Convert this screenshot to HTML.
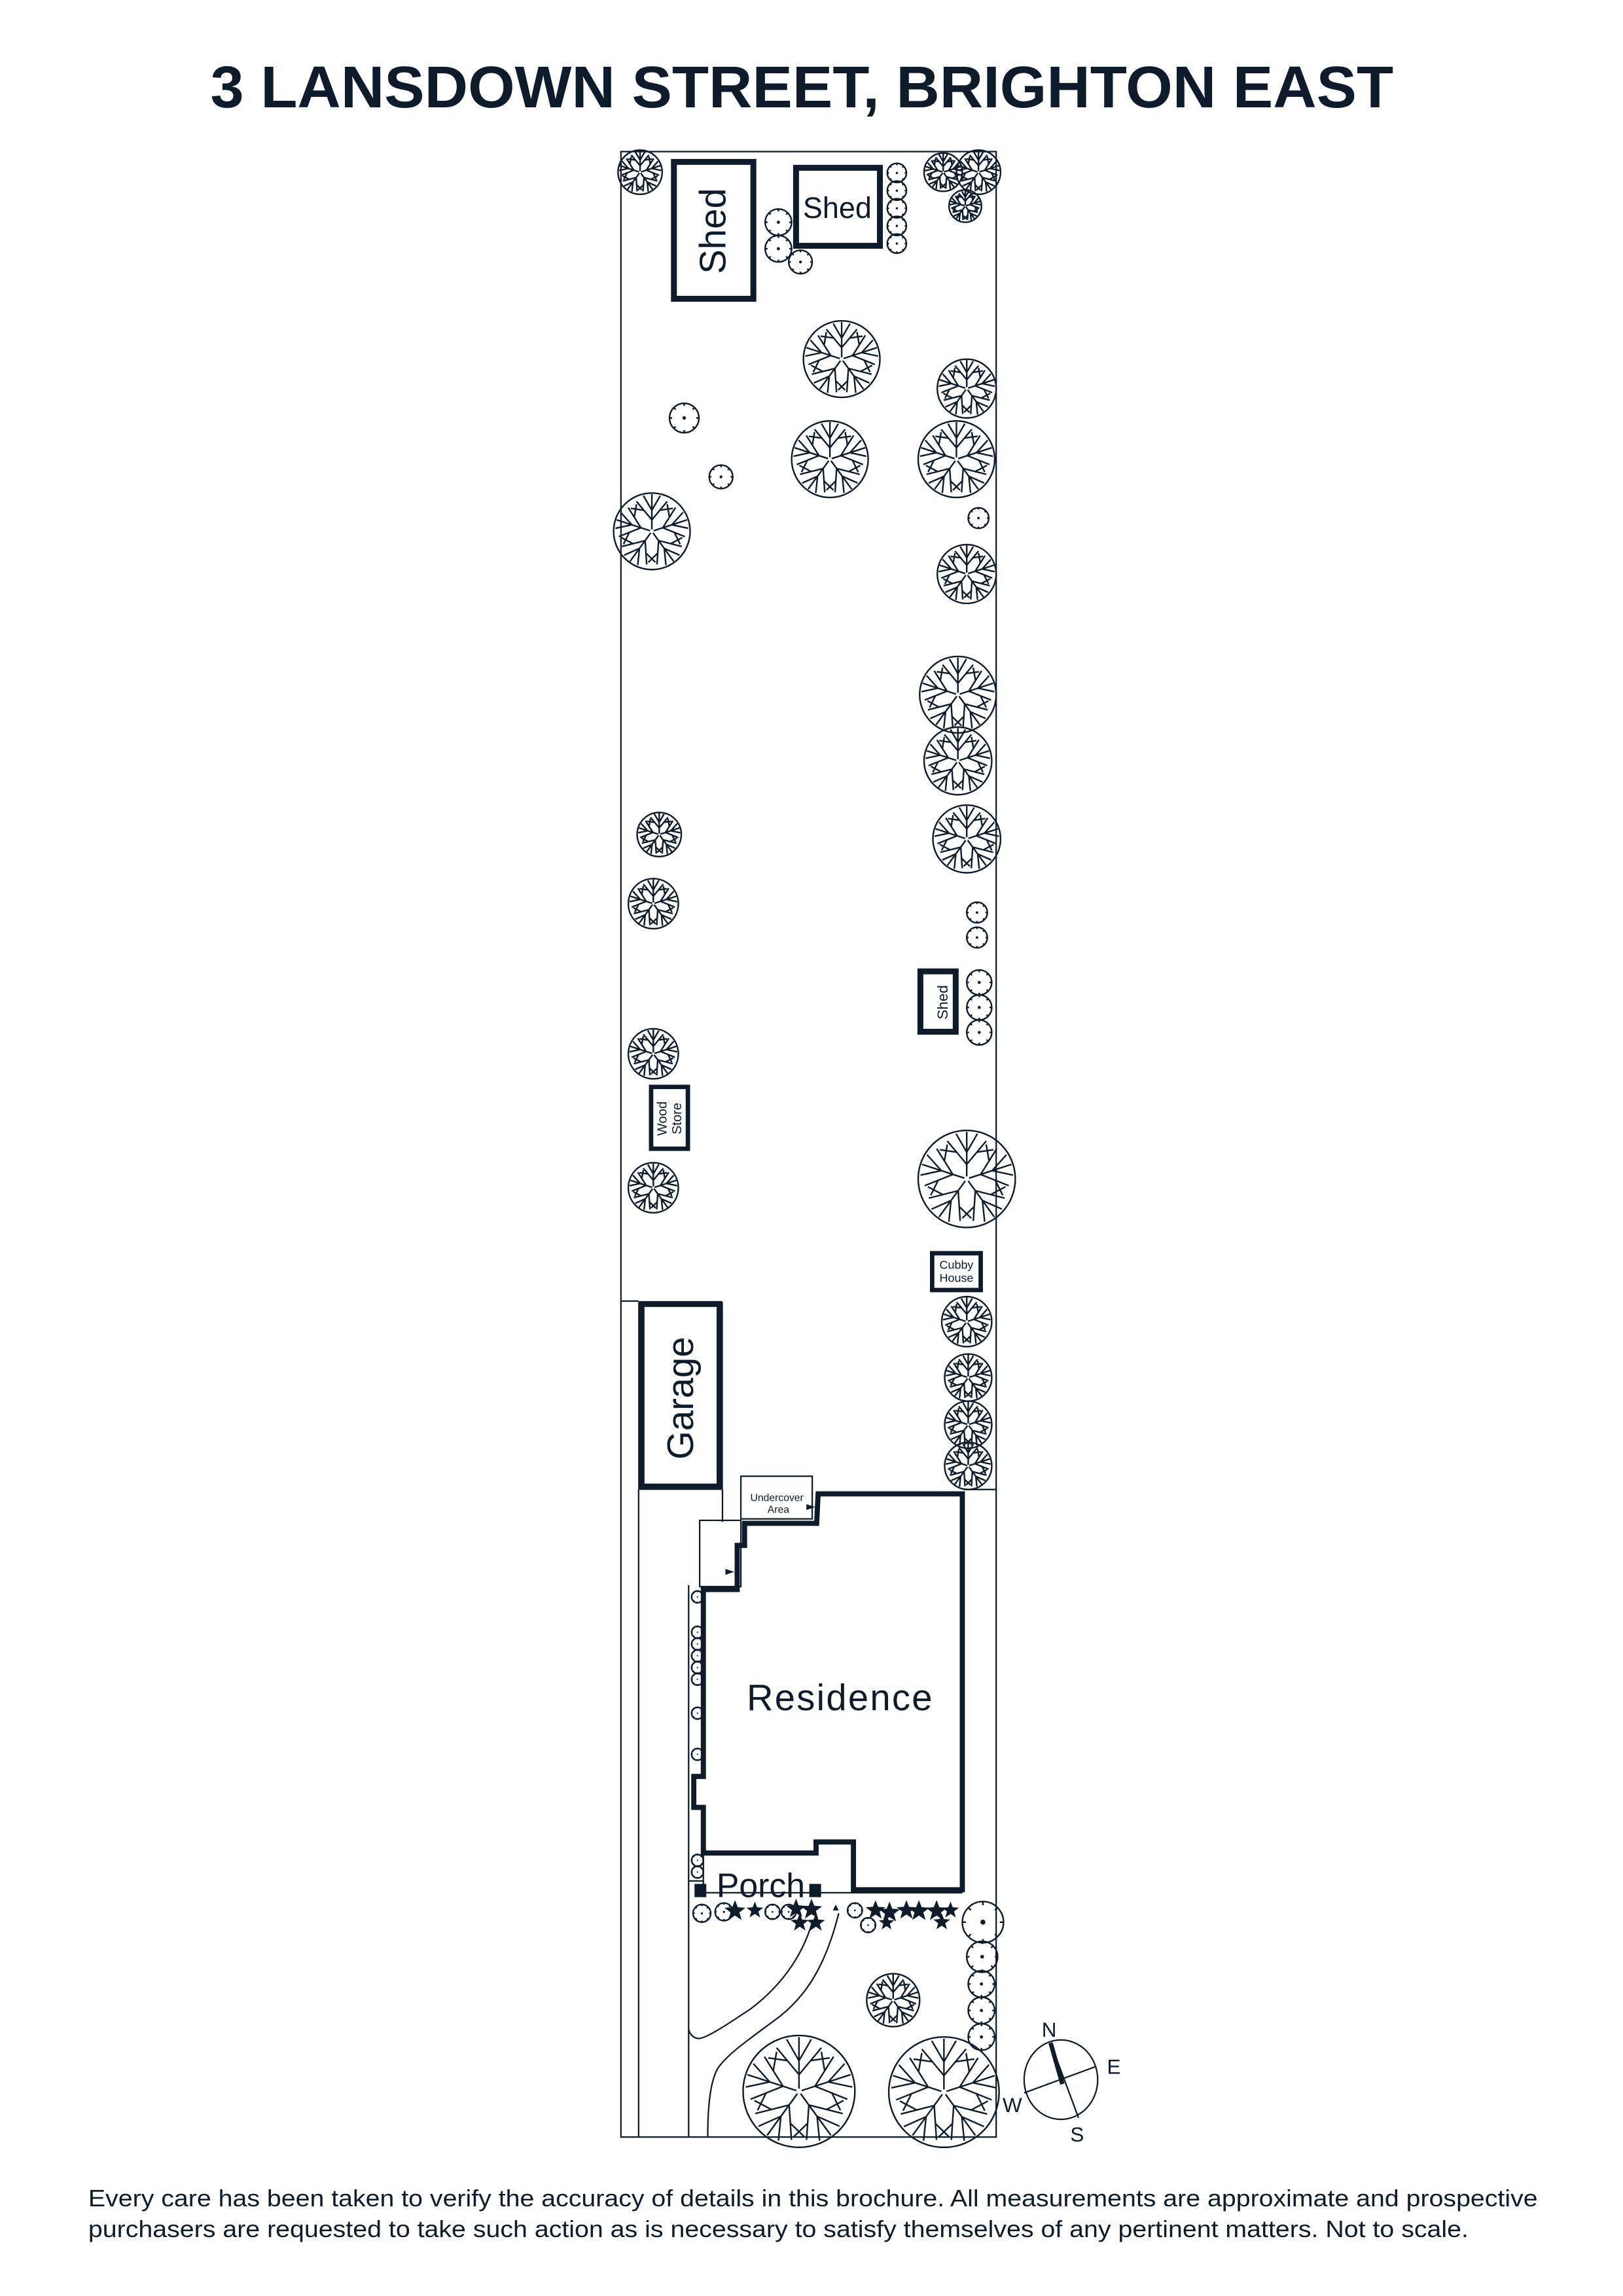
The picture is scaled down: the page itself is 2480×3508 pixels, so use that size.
<!DOCTYPE html>
<html><head><meta charset="utf-8"><style>html,body{margin:0;padding:0;background:#fff}svg{display:block}</style></head>
<body>
<svg width="2480" height="3508" viewBox="0 0 1103 1560" preserveAspectRatio="none" xmlns="http://www.w3.org/2000/svg">
<defs>
<g id="br"><path d="M0,-0.05 L0,-0.97 M0,-0.3 L-0.4,-0.78 M0,-0.3 L0.4,-0.78 M0,-0.55 L-0.22,-0.93 M0,-0.55 L0.22,-0.93 M-0.2,-0.55 L-0.55,-0.6 M0.2,-0.55 L0.55,-0.6" vector-effect="non-scaling-stroke"/></g>
<symbol id="tree" viewBox="-1 -1 2 2" overflow="visible"><g fill="none" stroke="#0d1b2a" stroke-width="2.4"><circle r="1" vector-effect="non-scaling-stroke"/><use href="#br"/><use href="#br" transform="rotate(72)"/><use href="#br" transform="rotate(144)"/><use href="#br" transform="rotate(216)"/><use href="#br" transform="rotate(288)"/></g></symbol>
<symbol id="shrub" viewBox="-1 -1 2 2" overflow="visible"><g fill="none" stroke="#0d1b2a" stroke-width="2.4"><circle r="1" vector-effect="non-scaling-stroke"/><path d="M0,-1 L0,-0.82 M0,1 L0,0.82 M-1,0 L-0.82,0 M1,0 L0.82,0 M0.7,0.7 L0.58,0.58 M-0.7,0.7 L-0.58,0.58 M0.7,-0.7 L0.58,-0.58 M-0.7,-0.7 L-0.58,-0.58" vector-effect="non-scaling-stroke"/></g><circle r="0.12" fill="#0d1b2a"/></symbol>
<symbol id="fl" viewBox="-1 -1 2 2" overflow="visible"><path fill="#0d1b2a" d="M0,-1 L0.25,-0.35 L0.95,-0.3 L0.4,0.12 L0.6,0.8 L0,0.4 L-0.6,0.8 L-0.4,0.12 L-0.95,-0.3 L-0.25,-0.35Z"/></symbol>
</defs>
<rect width="1103" height="1560" fill="#fff"/>
<text x="545" y="73" text-anchor="middle" font-family="Liberation Sans, sans-serif" font-weight="bold" font-size="40" fill="#0d1b2a" textLength="804" lengthAdjust="spacingAndGlyphs">3 LANSDOWN STREET, BRIGHTON EAST</text>

<g fill="none" stroke="#0d1b2a" stroke-width="1">
<rect x="422" y="103" width="255" height="1349"/>
<line x1="422" y1="884" x2="434" y2="884"/>
<line x1="434" y1="1012" x2="434" y2="1452"/>
<line x1="491" y1="1012" x2="491" y2="1034"/>
<line x1="468" y1="1077" x2="468" y2="1452"/>
<line x1="655" y1="1012" x2="677" y2="1012"/>
<line x1="468" y1="1278" x2="478" y2="1278"/>
<line x1="478" y1="1286" x2="654" y2="1286"/>
<rect x="503.5" y="1003" width="48.5" height="29"/>
<rect x="475.5" y="1033" width="28" height="45"/>
<line x1="478" y1="1257" x2="478" y2="1286"/>
<path d="M552,1306 C545,1330 530,1350 510,1365 C495,1375 480,1385 475,1385 C470,1385 468,1380 468,1378"/>
<path d="M570,1300 C560,1340 545,1358 530,1370 C510,1385 495,1395 488,1405 C482,1415 481,1435 481,1452"/>
<rect x="434" y="885" width="57" height="127" fill="none" stroke-width="0.6"/>
</g>

<g fill="none" stroke="#0d1b2a" stroke-width="4">
<rect x="458" y="110" width="54" height="93"/>
<rect x="541" y="114" width="57" height="53"/>
<rect x="625.5" y="660" width="24" height="41" stroke-width="4"/>
<rect x="442.5" y="738.5" width="25" height="42" stroke-width="3"/>
<rect x="633.5" y="851.5" width="33" height="25" stroke-width="3"/>
<rect x="436" y="886" width="53" height="124"/>
<polygon points="556,1015 654,1015 654,1284 580,1284 580,1251.5 554.6,1251.5 554.6,1259 478,1259 478,1228 471.5,1228 471.5,1207 478,1207 478,1080 501,1080 501,1050 506,1050 506,1035 555,1035" stroke-width="3.5"/>
</g>
<rect x="472" y="1280" width="8" height="9" fill="#0d1b2a"/>
<rect x="550" y="1280" width="8" height="9" fill="#0d1b2a"/>
<path d="M493,1066 l6,2 -6,2z M548,1022 l6,2 -6,2z M566,1298 l2,-4 2,4z" fill="#0d1b2a"/>

<g font-family="Liberation Sans, sans-serif" fill="#0d1b2a" text-anchor="middle">
<text transform="translate(493,157) rotate(-90)" font-size="25">Shed</text>
<text x="569" y="148" font-size="20">Shed</text>
<text transform="translate(644,681) rotate(-90)" font-size="10">Shed</text>
<text transform="translate(453,760) rotate(-90)" font-size="9">Wood</text>
<text transform="translate(463,760) rotate(-90)" font-size="9">Store</text>
<text x="650" y="862" font-size="8">Cubby</text>
<text x="650" y="871" font-size="8">House</text>
<text transform="translate(471,950) rotate(-90)" font-size="25">Garage</text>
<text x="528" y="1020" font-size="7">Undercover</text>
<text x="529" y="1028" font-size="7">Area</text>
<text x="571" y="1162" font-size="25" letter-spacing="1">Residence</text>
<text x="517" y="1289" font-size="23">Porch</text>
<text x="713" y="1384" font-size="14">N</text>
<text x="757" y="1409" font-size="14">E</text>
<text x="732" y="1455" font-size="14">S</text>
<text x="688" y="1435" font-size="14">W</text>
</g>

<g stroke="#0d1b2a" fill="none">
<ellipse cx="721" cy="1413" rx="25" ry="27" stroke-width="1"/>
<line x1="714" y1="1388" x2="733" y2="1439" stroke-width="1"/>
<line x1="714" y1="1388" x2="722" y2="1416" stroke-width="3"/>
<line x1="696" y1="1422" x2="745" y2="1404" stroke-width="1"/>
</g>

<g>
<use href="#tree" x="420" y="102" width="30" height="30"/>
<use href="#tree" x="628" y="104" width="26" height="26"/>
<use href="#tree" x="650" y="102" width="30" height="30"/>
<use href="#tree" x="645" y="129" width="22" height="22"/>
<use href="#tree" x="546" y="218" width="52" height="52"/>
<use href="#tree" x="637" y="244" width="40" height="40"/>
<use href="#tree" x="624" y="286" width="52" height="52"/>
<use href="#tree" x="538" y="286" width="52" height="52"/>
<use href="#tree" x="417" y="335" width="52" height="52"/>
<use href="#tree" x="637" y="370" width="40" height="40"/>
<use href="#tree" x="625" y="446" width="52" height="52"/>
<use href="#tree" x="628" y="494" width="46" height="46"/>
<use href="#tree" x="634" y="547" width="46" height="46"/>
<use href="#tree" x="433" y="552" width="30" height="30"/>
<use href="#tree" x="427" y="597" width="34" height="34"/>
<use href="#tree" x="427" y="699" width="34" height="34"/>
<use href="#tree" x="427" y="790" width="34" height="34"/>
<use href="#tree" x="624" y="768" width="66" height="66"/>
<use href="#tree" x="640" y="881" width="34" height="34"/>
<use href="#tree" x="642" y="920" width="32" height="32"/>
<use href="#tree" x="642" y="952" width="32" height="32"/>
<use href="#tree" x="642" y="980" width="32" height="32"/>
<use href="#tree" x="589" y="1341" width="36" height="36"/>
<use href="#tree" x="505" y="1383" width="76" height="76"/>
<use href="#tree" x="604" y="1384" width="75" height="75"/>

<use href="#shrub" x="520" y="142" width="18" height="18"/>
<use href="#shrub" x="520" y="160" width="18" height="18"/>
<use href="#shrub" x="536" y="170" width="16" height="16"/>
<use href="#shrub" x="603" y="111" width="13" height="13"/>
<use href="#shrub" x="603" y="123" width="13" height="13"/>
<use href="#shrub" x="603" y="135" width="13" height="13"/>
<use href="#shrub" x="603" y="147" width="13" height="13"/>
<use href="#shrub" x="603" y="159" width="13" height="13"/>
<use href="#shrub" x="455" y="274" width="20" height="20"/>
<use href="#shrub" x="482" y="316" width="16" height="16"/>
<use href="#shrub" x="658" y="345" width="14" height="14"/>
<use href="#shrub" x="657" y="613" width="14" height="14"/>
<use href="#shrub" x="657" y="630" width="14" height="14"/>
<use href="#shrub" x="657" y="659" width="17" height="17"/>
<use href="#shrub" x="657" y="676" width="17" height="17"/>
<use href="#shrub" x="657" y="693" width="17" height="17"/>
<use href="#shrub" x="654" y="1292" width="28" height="28"/>
<use href="#shrub" x="657" y="1319" width="21" height="21"/>
<use href="#shrub" x="658" y="1339" width="18" height="18"/>
<use href="#shrub" x="658" y="1357" width="18" height="18"/>
<use href="#shrub" x="658" y="1375" width="18" height="18"/>
<use href="#shrub" x="470" y="1081" width="8" height="8"/>
<use href="#shrub" x="470" y="1105" width="8" height="8"/>
<use href="#shrub" x="470" y="1113" width="8" height="8"/>
<use href="#shrub" x="470" y="1121" width="8" height="8"/>
<use href="#shrub" x="470" y="1129" width="8" height="8"/>
<use href="#shrub" x="470" y="1137" width="8" height="8"/>
<use href="#shrub" x="470" y="1160" width="8" height="8"/>
<use href="#shrub" x="470" y="1188" width="8" height="8"/>
<use href="#shrub" x="470" y="1260" width="8" height="8"/>
<use href="#shrub" x="470" y="1268" width="8" height="8"/>
<use href="#shrub" x="471" y="1294" width="12" height="12"/>
<use href="#shrub" x="486" y="1293" width="12" height="12"/>
<use href="#shrub" x="520" y="1294" width="10" height="10"/>
<use href="#shrub" x="531" y="1294" width="10" height="10"/>
<use href="#shrub" x="576" y="1293" width="10" height="10"/>
<use href="#shrub" x="585" y="1303" width="10" height="10"/>

<use href="#fl" x="492" y="1291" width="15" height="15"/>
<use href="#fl" x="507" y="1292" width="12" height="12"/>
<use href="#fl" x="534" y="1290" width="14" height="14"/>
<use href="#fl" x="544" y="1290" width="15" height="15"/>
<use href="#fl" x="537" y="1300" width="13" height="13"/>
<use href="#fl" x="548" y="1300" width="13" height="13"/>
<use href="#fl" x="588" y="1291" width="14" height="14"/>
<use href="#fl" x="597" y="1292" width="15" height="15"/>
<use href="#fl" x="609" y="1291" width="14" height="14"/>
<use href="#fl" x="617" y="1291" width="15" height="15"/>
<use href="#fl" x="629" y="1291" width="15" height="15"/>
<use href="#fl" x="640" y="1292" width="12" height="12"/>
<use href="#fl" x="634" y="1300" width="12" height="12"/>
<use href="#fl" x="597" y="1301" width="11" height="11"/>
</g>

<g font-family="Liberation Sans, sans-serif" fill="#0d1b2a" font-size="16">
<text x="60" y="1499" textLength="985" lengthAdjust="spacingAndGlyphs">Every care has been taken to verify the accuracy of details in this brochure. All measurements are approximate and prospective</text>
<text x="60" y="1520" textLength="938" lengthAdjust="spacingAndGlyphs">purchasers are requested to take such action as is necessary to satisfy themselves of any pertinent matters. Not to scale.</text>
</g>
</svg>
</body></html>
